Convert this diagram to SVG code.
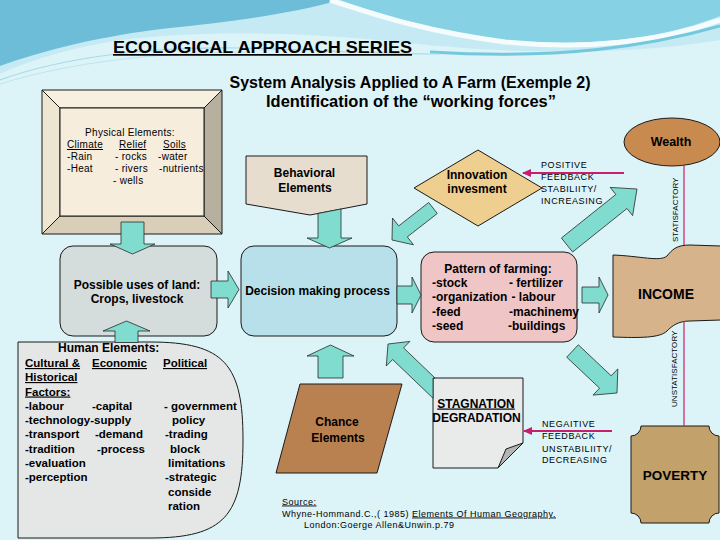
<svg xmlns="http://www.w3.org/2000/svg" width="720" height="540" viewBox="0 0 720 540">
<defs>
<style>
text{font-family:"Liberation Sans",Arial,sans-serif;fill:#000}
.b{font-weight:bold}
.u{text-decoration:underline}
.arr{fill:#7fdccf;stroke:#2a2a2a;stroke-width:0.8}
.ol{stroke:#1a1a1a;stroke-width:1}
.fb{font-size:9px;letter-spacing:0.6px}
.ph{font-size:10px;letter-spacing:0.3px}
.hm{font-size:11.5px;font-weight:bold}
.nd{font-size:12px;font-weight:bold}
.src{font-size:9px;letter-spacing:0.5px}
.vt{font-size:8px;letter-spacing:0.6px}
.mg{stroke:#c81e6e;stroke-width:2;fill:none}
.mgl{stroke:#c81e6e;stroke-width:1.2;fill:none}
</style>
<marker id="mh" markerUnits="userSpaceOnUse" markerWidth="9" markerHeight="8" refX="8" refY="4" orient="auto"><path d="M0,0 L9,4 L0,8 Z" fill="#c81e6e"/></marker>
</defs>

<g id="background">
<rect width="720" height="540" fill="#dcf3f8"/>
<path d="M0,0 H720 V40 C600,60 470,50 400,42 C300,32 200,30 120,40 C70,48 30,60 0,74 Z" fill="#c6eaf3"/>
<path d="M0,0 H340 C290,14 230,22 170,28 C100,36 45,50 0,66 Z" fill="#6dbdd8"/>
<path d="M340,0 H720 V16 C660,40 580,48 505,40 C430,32 385,16 340,0 Z" fill="#86d1e4"/>
<path d="M330,0 C385,18 430,32 505,42 C585,50 660,42 720,20" stroke="#f5fcfe" stroke-width="5" fill="none"/>
<path d="M430,52 C560,60 650,46 720,26" stroke="#74c8dd" stroke-width="3" fill="none"/>
<path d="M0,80 C60,58 150,46 240,48 C320,50 380,54 440,54" stroke="#a9dbe7" stroke-width="1.2" fill="none"/>
<path d="M0,84 C70,62 160,52 250,52" stroke="#bfe5ee" stroke-width="1" fill="none"/>
</g>

<g id="titles">
<text x="113" y="53" class="b u" font-size="17" textLength="299" lengthAdjust="spacingAndGlyphs">ECOLOGICAL APPROACH SERIES</text>
<text x="410" y="88" class="b" font-size="16" text-anchor="middle" textLength="361" lengthAdjust="spacingAndGlyphs">System Analysis Applied to A Farm (Exemple 2)</text>
<text x="411" y="107" class="b" font-size="16" text-anchor="middle" textLength="290" lengthAdjust="spacingAndGlyphs">Identification of the “working forces”</text>
</g>

<g id="physical-elements">
<polygon points="42,90 222,90 204,108 60,108" fill="#f7f0e0" class="ol"/>
<polygon points="42,90 60,108 60,216 42,234" fill="#efe6d2" class="ol"/>
<polygon points="222,90 222,234 204,216 204,108" fill="#b8b09e" class="ol"/>
<polygon points="42,234 60,216 204,216 222,234" fill="#d9cfb8" class="ol"/>
<rect x="60" y="108" width="144" height="108" fill="#f6eddc" class="ol"/>
<text x="130" y="136.3" class="ph" text-anchor="middle">Physical Elements:</text>
<text class="ph" y="148"><tspan x="67" class="u">Climate</tspan><tspan x="119" class="u">Relief</tspan><tspan x="163" class="u">Soils</tspan></text>
<text class="ph" y="160.3"><tspan x="67">-Rain</tspan><tspan x="115">- rocks</tspan><tspan x="158">-water</tspan></text>
<text class="ph" y="172.3"><tspan x="67">-Heat</tspan><tspan x="115">- rivers</tspan><tspan x="159">-nutrients</tspan></text>
<text class="ph" y="184.3"><tspan x="113">- wells</tspan></text>
</g>

<g id="possible-uses">
<rect x="60" y="246" width="157" height="90" rx="13" fill="#d5dcdc" class="ol"/>
<text x="137" y="288.5" class="nd" text-anchor="middle">Possible uses of land:</text>
<text x="137" y="302.5" class="nd" text-anchor="middle">Crops, livestock</text>
</g>

<g id="behavioral">
<polygon points="246,156 367,156 367,204 310,215 246,204" fill="#e6ddcf" class="ol"/>
<text x="304.5" y="177" class="nd" text-anchor="middle">Behavioral</text>
<text x="305" y="191.5" class="nd" text-anchor="middle">Elements</text>
</g>

<g id="decision">
<rect x="241" y="246" width="156" height="90" rx="13" fill="#b8e0ea" class="ol"/>
<text x="317.5" y="295" class="nd" text-anchor="middle">Decision making process</text>
</g>

<g id="innovation">
<polygon points="414,188 478,150 542,188 478,226" fill="#efcf8f" class="ol"/>
<text x="477" y="178.5" class="nd" text-anchor="middle">Innovation</text>
<text x="477" y="193" class="nd" text-anchor="middle">invesment</text>
</g>

<g id="pattern">
<rect x="421" y="252" width="156" height="90" rx="13" fill="#f0c5c6" class="ol"/>
<text x="498" y="273" class="nd" text-anchor="middle">Pattern of farming:</text>
<text class="nd" y="287"><tspan x="432">-stock</tspan><tspan x="509">- fertilizer</tspan></text>
<text class="nd" y="301"><tspan x="432">-organization</tspan><tspan x="511.5">- labour</tspan></text>
<text class="nd" y="315.5"><tspan x="432">-feed</tspan><tspan x="509">-machinemy</tspan></text>
<text class="nd" y="330"><tspan x="432">-seed</tspan><tspan x="508">-buildings</tspan></text>
</g>

<g id="wealth">
<ellipse cx="672" cy="142" rx="48" ry="24" fill="#c98a50" class="ol"/>
<text x="671" y="145.5" class="b" font-size="12.5" text-anchor="middle">Wealth</text>
</g>

<g id="income">
<path d="M613,255 C640,256 660,262 667,256 C672,250 676,245 690,245 L721,246 L721,320 L690,321 C678,321 672,326 667,331 C660,338 640,338 613,337 Z" fill="#d6b38a" class="ol"/>
<text x="666" y="298.5" class="b" font-size="14" text-anchor="middle">INCOME</text>
</g>

<g id="poverty">
<path d="M641,426 H709 A10,10 0 0 0 719,436 V513 A10,10 0 0 0 709,523 H641 A10,10 0 0 0 631,513 V436 A10,10 0 0 0 641,426 Z" fill="#c2a16a" class="ol"/>
<text x="675" y="479.5" class="b" font-size="13.5" text-anchor="middle">POVERTY</text>
</g>

<g id="human-elements">
<path d="M18,342 H150 C225,342 243,365 243,440 C243,515 225,538 150,538 H18 Z" fill="#e5e7e7" class="ol"/>
<text x="58" y="352" class="b" font-size="12">Human Elements:</text>
<text class="hm u" y="367"><tspan x="25">Cultural &amp;</tspan><tspan x="92">Economic</tspan><tspan x="163">Political</tspan></text>
<text class="hm u" x="25" y="381">Historical</text>
<text class="hm u" x="25" y="395.5">Factors:</text>
<text class="hm" y="409.5"><tspan x="25">-labour</tspan><tspan x="92">-capital</tspan><tspan x="164">- government</tspan></text>
<text class="hm" y="424"><tspan x="25">-technology-supply</tspan><tspan x="172">policy</tspan></text>
<text class="hm" y="438"><tspan x="25">-transport</tspan><tspan x="95">-demand</tspan><tspan x="165">-trading</tspan></text>
<text class="hm" y="452.5"><tspan x="25">-tradition</tspan><tspan x="97">-process</tspan><tspan x="170">block</tspan></text>
<text class="hm" y="467"><tspan x="25">-evaluation</tspan><tspan x="168">limitations</tspan></text>
<text class="hm" y="481"><tspan x="25">-perception</tspan><tspan x="165">-strategic</tspan></text>
<text class="hm" x="168" y="496">conside</text>
<text class="hm" x="168" y="510">ration</text>
</g>

<g id="chance">
<polygon points="300,384 402,384 377,473 276,473" fill="#b9814f" class="ol"/>
<text x="337" y="426" class="nd" text-anchor="middle" fill="#222">Chance</text>
<text x="338" y="441.5" class="nd" text-anchor="middle" fill="#222">Elements</text>
</g>

<g id="stagnation">
<polygon points="433,378 523,378 523,443 498,468 433,468" fill="#e9eaea" class="ol"/>
<polygon points="523,443 498,468 506,449" fill="#b4b4b4" class="ol"/>
<text x="476" y="407.5" class="nd u" text-anchor="middle">STAGNATION</text>
<text x="476.5" y="421.5" class="nd" text-anchor="middle">DEGRADATION</text>
</g>

<g id="connectors">
<polygon class="arr" points="121,222 144,222 144,244 155,244 132.5,254 110,244 121,244"/>
<polygon class="arr" points="115,342.5 115,331 103,331 126.5,321 150,331 138,331 138,342.5"/>
<polygon class="arr" points="318,213.5 341,209 341,238 352,238 329.5,248 307,238 318,238"/>
<polygon class="arr" points="318,378 318,356 307,356 330.5,345 354,356 343,356 343,378"/>
<polygon class="arr" points="211,281 228,281 228,271 239,289.5 228,308 228,298 211,298"/>
<polygon class="arr" points="397,286 412,286 412,277 421,295 412,313 412,304 397,304"/>
<polygon class="arr" points="582,287 599,287 599,277 608,295 599,313 599,303 582,303"/>
<polygon class="arr" points="428.7,202.5 398.7,225.9 392.5,218 392,240 413.5,244.8 407.3,236.9 437.3,213.5"/>
<polygon class="arr" points="561.4,238 615.8,194.5 610.2,187.4 637,189 632.6,215.6 627,208.5 572.6,252"/>
<polygon class="arr" points="388,344 409.9,341.4 403.6,347.9 435,378 433,378 433,398.2 392.6,359.5 386.3,366"/>
<polygon class="arr" points="566.7,357.2 599.6,388.2 593,395.1 617,393 617.8,368.9 611.2,375.8 578.3,344.8"/>
<line class="mg" x1="624" y1="173" x2="523" y2="173" marker-end="url(#mh)"/>
<line class="mg" x1="612" y1="431" x2="524" y2="431" marker-end="url(#mh)"/>
<line class="mgl" x1="684" y1="165" x2="684" y2="245"/>
<line class="mgl" x1="684" y1="321" x2="684" y2="426"/>
<text class="fb" x="541" y="168">POSITIVE</text>
<text class="fb" x="541" y="180">FEEDBACK</text>
<text class="fb" x="541" y="192">STABILIITY/</text>
<text class="fb" x="541" y="204">INCREASING</text>
<text class="fb" x="542" y="427">NEGAITIVE</text>
<text class="fb" x="542" y="439">FEEDBACK</text>
<text class="fb" x="542" y="451.5">UNSTABILIITY/</text>
<text class="fb" x="542" y="462.5">DECREASING</text>
<text class="vt" transform="translate(678,209.5) rotate(-90)" text-anchor="middle" textLength="65">STATISFACTORY</text>
<text class="vt" transform="translate(677,368.5) rotate(-90)" text-anchor="middle" textLength="77">UNSTATISFACTORY</text>
</g>

<g id="source">
<text class="src u" x="282" y="504.5">Source:</text>
<text class="src" x="282" y="516.5">Whyne-Hommand.C.,( 1985) <tspan class="u">Elements Of Human Geography.</tspan></text>
<text class="src" x="304" y="527.5">London:Goerge Allen&amp;Unwin.p.79</text>
</g>
</svg>
